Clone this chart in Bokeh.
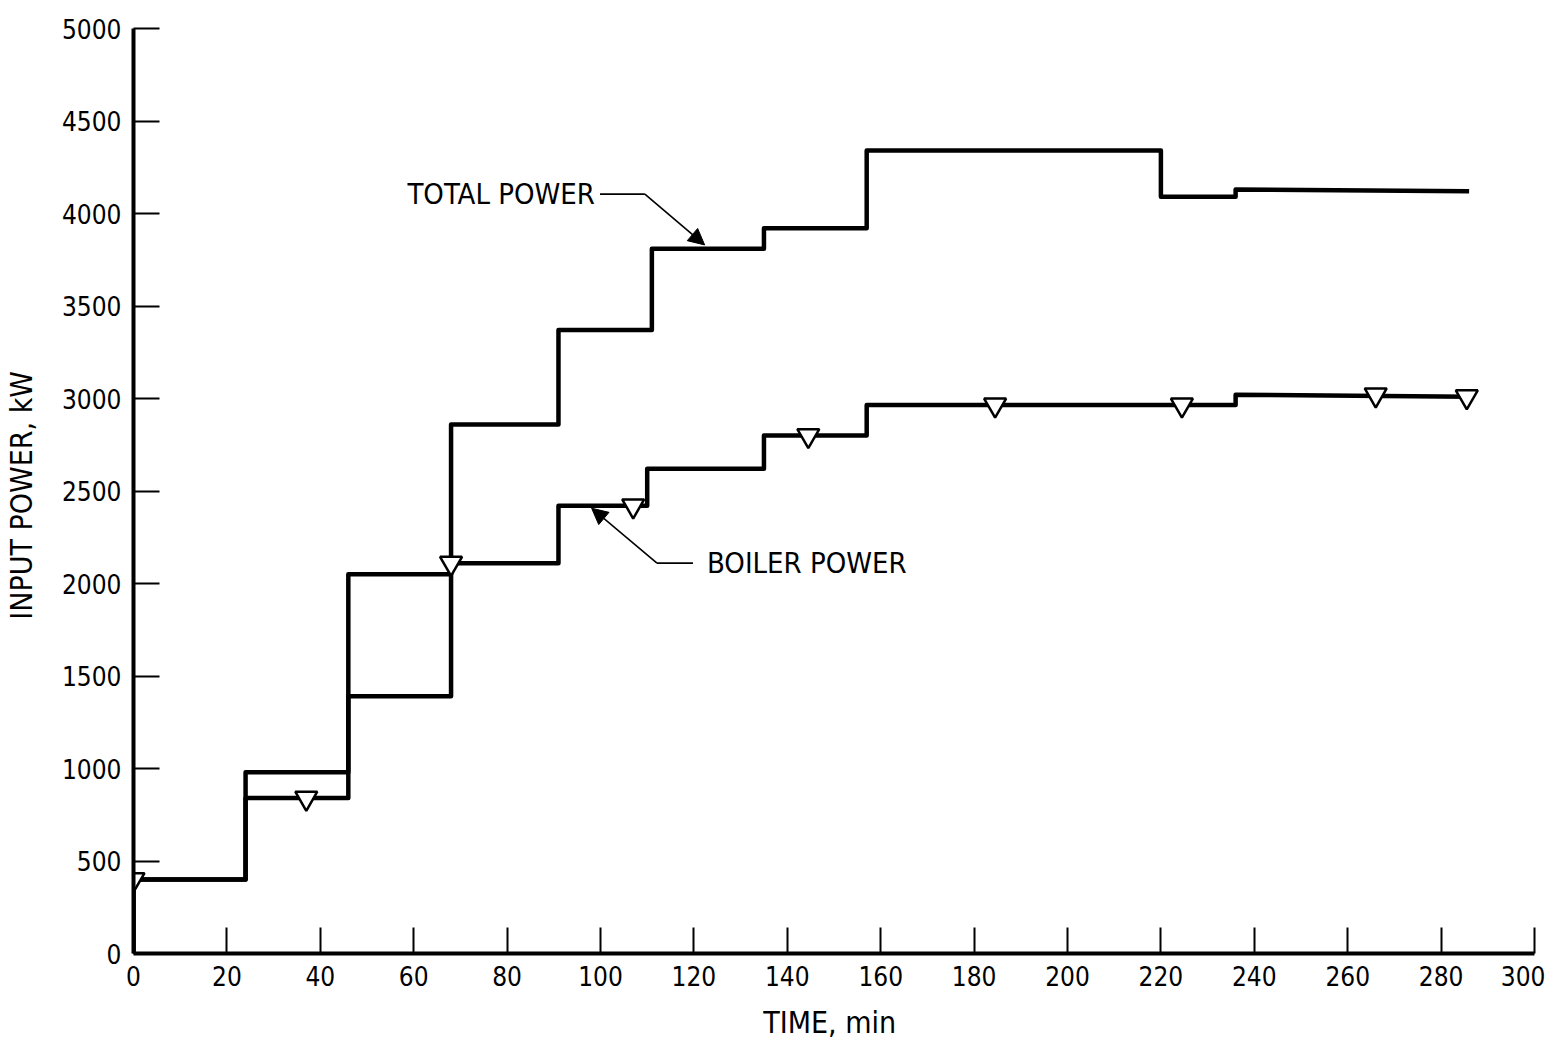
from bokeh.plotting import figure
from bokeh.models import Range1d, Arrow, NormalHead, Label, FixedTicker
from bokeh.embed import file_html
from bokeh.resources import INLINE

FONT = "DejaVu Sans Condensed"

# ---------------- data ----------------
x_ticks = list(range(0, 301, 20))
y_ticks = list(range(0, 5001, 500))

# total power: times (min) where a new level starts, and the levels (kW)
total_change_t = [0, 24, 46, 68, 91, 111, 135, 157, 220, 236]
total_level = [400, 980, 2050, 2860, 3370, 3810, 3920, 4340, 4090, 4130]
total_end_t = 286
total_end_level = 4120

# boiler power
boiler_change_t = [0, 24, 46, 68, 91, 110, 135, 157, 236]
boiler_level = [400, 840, 1390, 2110, 2420, 2620, 2800, 2965, 3020]
boiler_end_t = 286
boiler_end_level = 3010

# boiler-power data symbols (open inverted triangles)
boiler_marker_t = [0, 37, 68, 107, 144.5, 184.5, 224.5, 266, 285.5]
boiler_marker_p = [400, 840, 2110, 2420, 2800, 2965, 2965, 3020, 3010]


def step_path(ts, levels, t_end, level_end):
    xs, ys = [ts[0]], [0]
    for i, (t, lv) in enumerate(zip(ts, levels)):
        t_next = ts[i + 1] if i + 1 < len(ts) else t_end
        xs += [t, t_next]
        ys += [lv, lv]
    ys[-1] = level_end
    return xs, ys


p = figure(frame_width=1401, frame_height=925,
           x_range=Range1d(0, 300), y_range=Range1d(0, 5000),
           output_backend="svg", toolbar_location=None,
           min_border_left=133, min_border_right=11,
           min_border_top=28, min_border_bottom=84)
p.outline_line_color = None
p.grid.visible = False
p.background_fill_color = "white"

for ax in (p.xaxis[0], p.yaxis[0]):
    ax.axis_line_width = 4
    ax.axis_line_color = "black"
    ax.major_tick_in = 26
    ax.major_tick_out = 0
    ax.major_tick_line_width = 2
    ax.major_tick_line_color = "black"
    ax.minor_tick_line_color = None
    ax.major_label_text_font = FONT
    ax.major_label_text_font_size = "26px"
    ax.major_label_text_color = "black"
    ax.major_label_standoff = 12
    ax.axis_label_text_font = FONT
    ax.axis_label_text_font_size = "30px"
    ax.axis_label_text_font_style = "normal"
    ax.axis_label_text_color = "black"

p.xaxis.ticker = FixedTicker(ticks=x_ticks)
p.yaxis.ticker = FixedTicker(ticks=y_ticks)
p.xaxis.axis_label = "TIME,  min"
p.yaxis.axis_label = "INPUT POWER,  kW"
p.xaxis.axis_label_standoff = 16
p.yaxis.axis_label_standoff = 20

tx, ty = step_path(total_change_t, total_level, total_end_t, total_end_level)
bx, by = step_path(boiler_change_t, boiler_level, boiler_end_t, boiler_end_level)
p.line(tx, ty, line_width=4.5, line_color="black", line_join="round")
p.line(bx, by, line_width=4.5, line_color="black", line_join="round")

p.scatter(boiler_marker_t, boiler_marker_p, marker="inverted_triangle", size=22,
          fill_color="white", line_color="black", line_width=2.5)

# annotations with leader arrows
p.add_layout(Label(x=98.8, y=4105, text="TOTAL POWER", text_align="right",
                   text_baseline="middle", text_font=FONT, text_font_size="29px",
                   text_color="black"))
p.line([99.9, 109.5], [4105, 4105], line_width=1.6, line_color="black")
p.add_layout(Arrow(x_start=109.5, y_start=4105, x_end=122.3, y_end=3830,
                   line_width=1.6, line_color="black",
                   end=NormalHead(size=16, fill_color="black", line_color="black")))

p.add_layout(Label(x=122.8, y=2110, text="BOILER POWER", text_align="left",
                   text_baseline="middle", text_font=FONT, text_font_size="29px",
                   text_color="black"))
p.line([119.8, 112.1], [2110, 2110], line_width=1.6, line_color="black")
p.add_layout(Arrow(x_start=112.1, y_start=2110, x_end=98.1, y_end=2407,
                   line_width=1.6, line_color="black",
                   end=NormalHead(size=16, fill_color="black", line_color="black")))

open("out.html", "w").write(file_html(p, INLINE))
